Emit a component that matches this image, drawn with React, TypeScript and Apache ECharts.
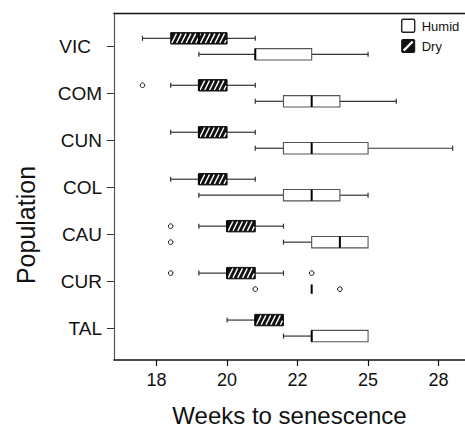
import React, { useEffect, useRef } from "react";
import * as echarts from "echarts";

const populations = ["VIC", "COM", "CUN", "COL", "CAU", "CUR", "TAL"];
const tickLabels = [18, 20, 22, 25, 28];

// Dry (hatched)
const dryMin = [17.6, 18.4, 18.4, 18.4, 19.2, 19.2, 20.0];
const dryQ1 = [18.4, 19.2, 19.2, 19.2, 20.0, 20.0, 20.8];
const dryMedian = [19.2, 19.2, 19.2, 19.2, 20.0, 20.0, 20.8];
const dryQ3 = [20.0, 20.0, 20.0, 20.0, 20.8, 20.8, 21.6];
const dryMax = [20.8, 20.8, 20.8, 20.8, 21.6, 21.6, 21.6];
const dryOutliers = [[], [17.6], [], [], [18.4], [18.4, 22.6], []];

// Humid (white)
const humidMin = [19.2, 20.8, 20.8, 19.2, 21.6, 22.6, 21.6];
const humidQ1 = [20.8, 21.6, 21.6, 21.6, 22.6, 22.6, 22.6];
const humidMedian = [20.8, 22.6, 22.6, 22.6, 23.8, 22.6, 22.6];
const humidQ3 = [22.6, 23.8, 25.0, 23.8, 25.0, 22.6, 25.0];
const humidMax = [25.0, 26.2, 28.6, 25.0, 25.0, 22.6, 25.0];
const humidOutliers = [[], [], [], [], [18.4], [20.8, 23.8], []];

const FONT = "Liberation Sans, Arial, Helvetica, sans-serif";

// piecewise-linear mapping from weeks to tick position (axis ticks are equally spaced)
function toAxis(w: number): number {
  const t = tickLabels;
  let seg = 0;
  if (w >= t[t.length - 1]) seg = t.length - 2;
  else {
    for (let s = 0; s < t.length - 1; s++) {
      if (w <= t[s + 1]) {
        seg = s;
        break;
      }
    }
  }
  return seg + (w - t[seg]) / (t[seg + 1] - t[seg]);
}

function hatchLines(x0: number, y0: number, x1: number, y1: number, period: number, k: number, color: string, lw: number) {
  const out: any[] = [];
  const h = y1 - y0;
  if (x1 - x0 <= 0) return out;
  for (let c = x0 - k * h; c < x1; c += period) {
    const xa = Math.max(x0, c);
    const xb = Math.min(x1, c + k * h);
    if (xb - xa <= 0.01) continue;
    out.push({
      type: "line",
      shape: { x1: xa, y1: y1 - (xa - c) / k, x2: xb, y2: y1 - (xb - c) / k },
      style: { stroke: color, lineWidth: lw },
      silent: true,
    });
  }
  return out;
}

export default function App() {
  const ref = useRef<HTMLDivElement>(null);
  useEffect(() => {
    if (!ref.current) return;
    const chart = echarts.init(ref.current, null, { renderer: "svg" });

    const boxData: number[][] = [];
    const outlierData: number[][] = [];
    populations.forEach((_, i) => {
      boxData.push([i, 0, toAxis(dryMin[i]), toAxis(dryQ1[i]), toAxis(dryMedian[i]), toAxis(dryQ3[i]), toAxis(dryMax[i])]);
      boxData.push([i, 1, toAxis(humidMin[i]), toAxis(humidQ1[i]), toAxis(humidMedian[i]), toAxis(humidQ3[i]), toAxis(humidMax[i])]);
      dryOutliers[i].forEach((v) => outlierData.push([toAxis(v), i, 0]));
      humidOutliers[i].forEach((v) => outlierData.push([toAxis(v), i, 1]));
    });

    const HALF = 5.7;
    const OFF = 8;

    const renderBox = (params: any, api: any) => {
      const i = api.value(0);
      const g = api.value(1);
      const yc = api.coord([0, i])[1] + (g === 0 ? -OFF : OFF);
      const px = (v: number) => api.coord([v, i])[0];
      const xMin = px(api.value(2));
      const xQ1 = px(api.value(3));
      const xMed = px(api.value(4));
      const xQ3 = px(api.value(5));
      const xMax = px(api.value(6));
      const wcol = "#333";
      const children: any[] = [];
      if (xQ1 - xMin > 0.5) {
        children.push({ type: "line", shape: { x1: xMin, y1: yc, x2: xQ1, y2: yc }, style: { stroke: wcol, lineWidth: 1.2 } });
        children.push({ type: "line", shape: { x1: xMin, y1: yc - 2.5, x2: xMin, y2: yc + 2.5 }, style: { stroke: wcol, lineWidth: 1.2 } });
      }
      if (xMax - xQ3 > 0.5) {
        children.push({ type: "line", shape: { x1: xQ3, y1: yc, x2: xMax, y2: yc }, style: { stroke: wcol, lineWidth: 1.2 } });
        children.push({ type: "line", shape: { x1: xMax, y1: yc - 2.5, x2: xMax, y2: yc + 2.5 }, style: { stroke: wcol, lineWidth: 1.2 } });
      }
      if (xQ3 - xQ1 > 0.5) {
        if (g === 0) {
          children.push({
            type: "rect",
            shape: { x: xQ1, y: yc - HALF, width: xQ3 - xQ1, height: 2 * HALF },
            style: { fill: "#111", stroke: "#111", lineWidth: 1 },
          });
          children.push(...hatchLines(xQ1 + 1, yc - HALF + 1, xQ3 - 1, yc + HALF - 1, 4.8, 0.5, "#fff", 1.4));
        } else {
          children.push({
            type: "rect",
            shape: { x: xQ1, y: yc - HALF, width: xQ3 - xQ1, height: 2 * HALF },
            style: { fill: "#fff", stroke: "#555", lineWidth: 1.1 },
          });
        }
      }
      children.push({
        type: "line",
        shape: { x1: xMed, y1: yc - HALF + (xQ3 - xQ1 > 0.5 ? 0 : 1), x2: xMed, y2: yc + HALF - (xQ3 - xQ1 > 0.5 ? 0 : 1) },
        style: { stroke: "#000", lineWidth: 2 },
      });
      return { type: "group", children };
    };

    const renderOutlier = (params: any, api: any) => {
      const x = api.coord([api.value(0), api.value(1)])[0];
      const yc = api.coord([0, api.value(1)])[1] + (api.value(2) === 0 ? -OFF : OFF);
      return { type: "circle", shape: { cx: x, cy: yc, r: 2.3 }, style: { fill: "#fff", stroke: "#111", lineWidth: 1 } };
    };

    const lx = 401.7;
    const option: any = {
      animation: false,
      grid: { left: 114, top: 13, width: 352, height: 351, containLabel: false },
      xAxis: [
        {
          type: "value",
          min: -0.604,
          max: 4.375,
          splitLine: { show: false },
          axisLine: { show: true, onZero: false, lineStyle: { color: "#111", width: 1.5 } },
          axisTick: { show: true, customValues: [0, 1, 2, 3, 4], length: 6, lineStyle: { color: "#111", width: 1.2 } },
          axisLabel: {
            customValues: [0, 1, 2, 3, 4],
            formatter: (v: number) => String(tickLabels[Math.round(v)]),
            fontSize: 18,
            color: "#111",
            fontFamily: FONT,
            margin: 11,
          },
          name: "Weeks to senescence",
          nameLocation: "middle",
          nameGap: 43,
          nameTextStyle: { fontSize: 24, color: "#111", fontFamily: FONT },
        },
        {
          type: "value",
          position: "top",
          min: -0.604,
          max: 4.375,
          splitLine: { show: false },
          axisLine: { show: true, onZero: false, lineStyle: { color: "#111", width: 1.3 } },
          axisTick: { show: false },
          axisLabel: { show: false },
        },
      ],
      yAxis: {
        type: "value",
        inverse: true,
        min: -0.71,
        max: 6.68,
        splitLine: { show: false },
        axisLine: { show: true, onZero: false, lineStyle: { color: "#555", width: 1.2 } },
        axisTick: { show: true, customValues: [0, 1, 2, 3, 4, 5, 6], length: 7, lineStyle: { color: "#333", width: 1 } },
        axisLabel: {
          customValues: [0, 1, 2, 3, 4, 5, 6],
          formatter: (v: number) => {
            const name = populations[Math.round(v)];
            return name === "VIC" ? "{v|" + name + "}" : name;
          },
          rich: { v: { fontSize: 19, color: "#111", fontFamily: FONT, padding: [0, 11, 0, 0] } },
          fontSize: 19,
          color: "#111",
          fontFamily: FONT,
          margin: 12,
        },
      },
      graphic: [
        {
          type: "text",
          x: 26,
          y: 225,
          rotation: Math.PI / 2,
          style: {
            text: "Population",
            fontSize: 25,
            fontFamily: FONT,
            fill: "#111",
            align: "center",
            verticalAlign: "middle",
          },
        },
        {
          type: "rect",
          shape: { x: lx, y: 19.2, width: 13, height: 13, r: 1.5 },
          style: { fill: "#fff", stroke: "#222", lineWidth: 1.4 },
        },
        {
          type: "text",
          x: lx + 20,
          y: 26,
          style: { text: "Humid", fontSize: 13, fontFamily: FONT, fill: "#111", verticalAlign: "middle" },
        },
        {
          type: "rect",
          shape: { x: lx, y: 39.5, width: 13, height: 13, r: 1 },
          style: { fill: "#111", stroke: "#111", lineWidth: 1 },
        },
        {
          type: "line",
          shape: { x1: lx + 2, y1: 39.5 + 11, x2: lx + 11, y2: 39.5 + 2 },
          style: { stroke: "#fff", lineWidth: 2.4 },
        },
        {
          type: "text",
          x: lx + 20,
          y: 46.5,
          style: { text: "Dry", fontSize: 13, fontFamily: FONT, fill: "#111", verticalAlign: "middle" },
        },
      ],
      series: [
        {
          type: "custom",
          renderItem: renderBox,
          data: boxData,
          xAxisIndex: 0,
          clip: false,
          encode: { x: [2, 3, 4, 5, 6], y: 0 },
        },
        {
          type: "custom",
          renderItem: renderOutlier,
          data: outlierData,
          xAxisIndex: 0,
          clip: false,
          encode: { x: 0, y: 1 },
        },
      ],
    };
    chart.setOption(option);
    return () => chart.dispose();
  }, []);
  return (
    <div
      ref={ref}
      style={{ position: "fixed", left: 0, top: 0, width: 465, height: 432, background: "#fff" }}
    />
  );
}
